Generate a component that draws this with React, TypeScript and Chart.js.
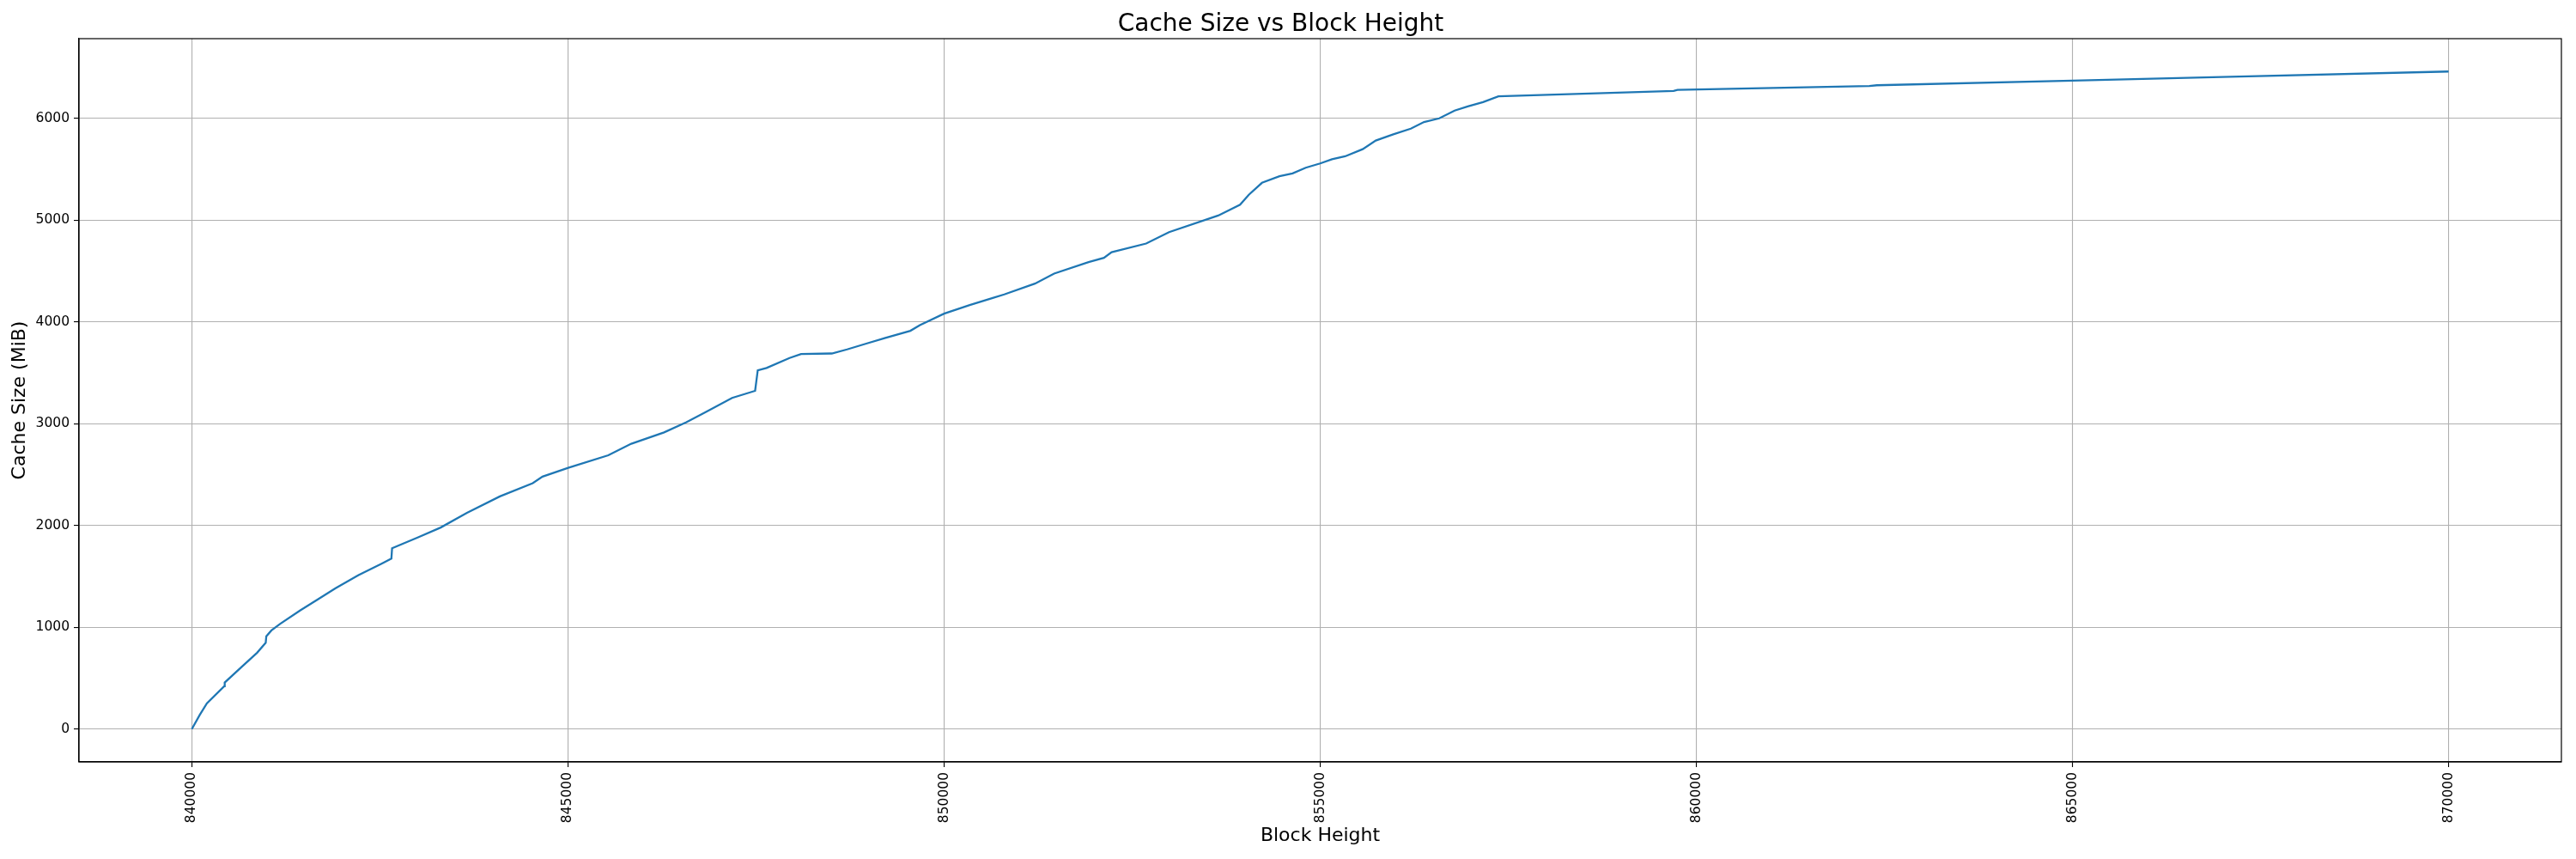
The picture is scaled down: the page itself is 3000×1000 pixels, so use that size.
import React, { useEffect, useRef } from "react";
import { Chart, registerables } from "chart.js";

Chart.register(...registerables);

const chartTitle = "Cache Size vs Block Height";
const xAxisLabel = "Block Height";
const yAxisLabel = "Cache Size (MiB)";

const blockHeights = [
  840000, 840106, 840201, 840430, 840437, 840659, 840868, 840982, 840990, 841058,
  841172, 841438, 841648, 841911, 842216, 842522, 842653, 842662, 843002, 843308,
  843658, 844095, 844532, 844662, 845003, 845536, 845842, 846278, 846575, 846825,
  847182, 847488, 847523, 847640, 847946, 848099, 848507, 848711, 848966, 849220,
  849552, 849679, 850000, 850341, 850647, 850800, 851208, 851463, 851921, 852125,
  852227, 852686, 852991, 853644, 853935, 854051, 854226, 854459, 854633, 854808,
  855000, 855157, 855332, 855565, 855739, 855972, 856205, 856380, 856583, 856787,
  856962, 857165, 857369, 859698, 859750, 862300, 862400, 865000, 867100, 870000,
];

const cacheSizeMiB = [
  0, 140, 253, 421, 457, 608, 750, 848, 912, 969,
  1033, 1165, 1261, 1383, 1512, 1625, 1674, 1777, 1882, 1980,
  2125, 2286, 2416, 2480, 2567, 2690, 2803, 2915, 3015, 3112,
  3253, 3323, 3525, 3548, 3646, 3685, 3690, 3730, 3787, 3843,
  3913, 3969, 4081, 4166, 4236, 4270, 4376, 4475, 4587, 4629,
  4685, 4770, 4882, 5045, 5151, 5249, 5367, 5431, 5459, 5515,
  5557, 5599, 5627, 5697, 5782, 5843, 5899, 5964, 6000, 6076,
  6118, 6160, 6216, 6270, 6280, 6318, 6325, 6370, 6409, 6460,
];

const xTickValues = [840000, 845000, 850000, 855000, 860000, 865000, 870000];
const yTickValues = [0, 1000, 2000, 3000, 4000, 5000, 6000];

const FONT = "'DejaVu Sans', sans-serif";

const frameBox = {
  id: "frameBox",
  afterDraw(chart: any) {
    const { ctx, chartArea } = chart;
    ctx.save();
    ctx.strokeStyle = "#000";
    ctx.lineWidth = 1.2;
    ctx.strokeRect(chartArea.left, chartArea.top, chartArea.right - chartArea.left, chartArea.bottom - chartArea.top);
    ctx.restore();
  },
};

export default function App() {
  const canvasRef = useRef<HTMLCanvasElement | null>(null);

  useEffect(() => {
    const canvas = canvasRef.current;
    if (!canvas) return;
    const points = blockHeights.map((b, i) => ({ x: b, y: cacheSizeMiB[i] }));
    const chart = new Chart(canvas, {
      type: "line",
      data: {
        datasets: [
          {
            data: points,
            borderColor: "#1f77b4",
            backgroundColor: "#1f77b4",
            borderWidth: 2.3,
            pointRadius: 0,
            tension: 0,
            fill: false,
          },
        ],
      },
      options: {
        animation: false,
        responsive: false,
        devicePixelRatio: 1,
        layout: { padding: { left: 0, right: 17, top: 0, bottom: 0 } },
        plugins: {
          legend: { display: false },
          tooltip: { enabled: false },
          title: {
            display: true,
            text: chartTitle,
            color: "#000",
            font: { family: FONT, size: 28, weight: "normal", lineHeight: 1.0 },
            padding: { top: 14.5, bottom: 2.5 },
          },
        },
        scales: {
          x: {
            type: "linear",
            min: 838500,
            max: 871500,
            afterBuildTicks: (s: any) => {
              s.ticks = xTickValues.map((v) => ({ value: v }));
            },
            afterFit: (s: any) => {
              s.height = 113;
            },
            ticks: {
              color: "#000",
              font: { family: FONT, size: 15.5 },
              padding: 6,
              minRotation: 90,
              maxRotation: 90,
              autoSkip: false,
              callback: (v: any) => String(v),
            },
            grid: {
              color: "#b0b0b0",
              lineWidth: 1.1,
              tickColor: "#000",
              tickLength: 6,
              tickWidth: 1.1,
            },
            border: { display: true, color: "#000", width: 1.2 },
            title: {
              display: true,
              text: xAxisLabel,
              color: "#000",
              font: { family: FONT, size: 22, lineHeight: 1.2 },
              padding: { top: 0, bottom: 13.3 },
            },
          },
          y: {
            type: "linear",
            min: -323,
            max: 6783,
            afterBuildTicks: (s: any) => {
              s.ticks = yTickValues.map((v) => ({ value: v }));
            },
            afterFit: (s: any) => {
              s.width = 92;
            },
            ticks: {
              color: "#000",
              font: { family: FONT, size: 15.5 },
              padding: 5,
              autoSkip: false,
              callback: (v: any) => String(v),
            },
            grid: {
              color: "#b0b0b0",
              lineWidth: 1.1,
              tickColor: "#000",
              tickLength: 6,
              tickWidth: 1.1,
            },
            border: { display: true, color: "#000", width: 1.2 },
            title: {
              display: true,
              text: yAxisLabel,
              color: "#000",
              font: { family: FONT, size: 22, lineHeight: 1.2 },
              padding: { top: 9.8, bottom: 0 },
            },
          },
        },
      },
      plugins: [frameBox],
    } as any);
    return () => chart.destroy();
  }, []);

  return (
    <div style={{ position: "absolute", left: 0, top: 0, width: 3000, height: 1000, background: "#fff" }}>
      <canvas ref={canvasRef} width={3000} height={1000} style={{ display: "block", width: 3000, height: 1000 }} />
    </div>
  );
}
